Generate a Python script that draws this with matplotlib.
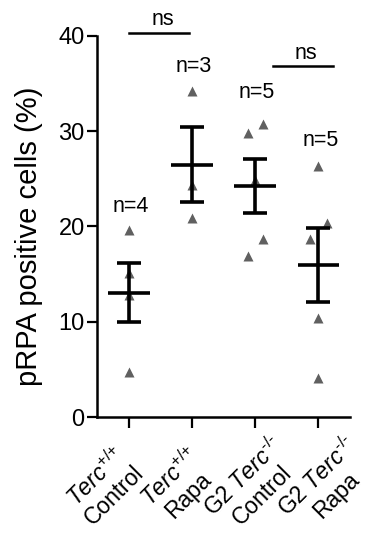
import numpy as np, matplotlib; matplotlib.use('Agg')
import matplotlib.pyplot as plt

plt.rcParams['font.family'] = ['Liberation Sans', 'DejaVu Sans']
plt.rcParams['mathtext.fontset'] = 'custom'
plt.rcParams['mathtext.rm'] = 'Liberation Sans'
plt.rcParams['mathtext.it'] = 'Liberation Sans:italic'

groups = [r'$\it{Terc}^{\text{+/+}}$' + '\nControl', r'$\it{Terc}^{\text{+/+}}$' + '\nRapa',
          r'G2 $\it{Terc}^{\text{-/-}}$' + '\nControl', r'G2 $\it{Terc}^{\text{-/-}}$' + '\nRapa']
values = [[19.6, 15.1, 12.8, 4.7],
          [34.2, 24.4, 20.9],
          [29.8, 30.8, 24.9, 18.7, 16.9],
          [26.3, 20.4, 18.7, 10.4, 4.1]]
jitter = [[0, 0, 0, 0],
          [0, 0, 0],
          [-0.12, 0.13, 0, 0.13, -0.12],
          [0, 0.13, -0.14, 0, 0]]
n_labels = ['n=4', 'n=3', 'n=5', 'n=5']
n_label_y = [21.5, 36.2, 33.5, 28.4]

fig = plt.figure(figsize=(3.68, 5.33), dpi=100)
ax = fig.add_axes([0.264, 0.2176, 0.687, 0.715])

for i, (v, j) in enumerate(zip(values, jitter)):
    v = np.array(v)
    ax.plot(i + np.array(j), v, '^', color='#606060', ms=7.5, mec='none', zorder=2)
    m = v.mean(); sem = v.std(ddof=1) / np.sqrt(len(v))
    ax.errorbar(i, m, yerr=sem, fmt='none', ecolor='k', elinewidth=2.6, capsize=8.5, capthick=2.6, zorder=3)
    ax.plot([i - 0.33, i + 0.33], [m, m], '-', c='k', lw=2.6, solid_capstyle='butt', zorder=3)
    ax.text(i + 0.03, n_label_y[i], n_labels[i], ha='center', va='baseline', fontsize=15.5)

# significance bars
ax.plot([0, 0.95], [40.3, 40.3], c='k', lw=1.8, clip_on=False)
ax.text(0.535, 41.15, 'ns', ha='center', va='baseline', fontsize=15.5)
ax.plot([2.28, 3.23], [36.8, 36.8], c='k', lw=1.8, clip_on=False)
ax.text(2.80, 37.55, 'ns', ha='center', va='baseline', fontsize=15.5)

ax.set_xlim(-0.5, 3.5); ax.set_ylim(0, 40)
ax.set_yticks([0, 10, 20, 30, 40])
ax.set_xticks(range(4)); ax.set_xticklabels([])
# group labels sit on a slightly wider spacing than the ticks, as in the original
for i, g in enumerate(groups):
    ax.text(-0.378 + 1.167 * i, -7.2, g, rotation=45, rotation_mode='anchor', ha='center', va='center',
            multialignment='center', fontsize=16.5, linespacing=1.1, clip_on=False)
ax.tick_params(axis='y', labelsize=17, width=1.6, length=7, pad=2)
ax.tick_params(axis='x', width=1.6, length=8)
for s in ['top', 'right']: ax.spines[s].set_visible(False)
for s in ['left', 'bottom']: ax.spines[s].set_linewidth(1.8)
ax.set_ylabel('pRPA positive cells (%)', fontsize=21)
ax.yaxis.set_label_coords(-0.215, 0.475)
fig.savefig('out.png', dpi=100)
